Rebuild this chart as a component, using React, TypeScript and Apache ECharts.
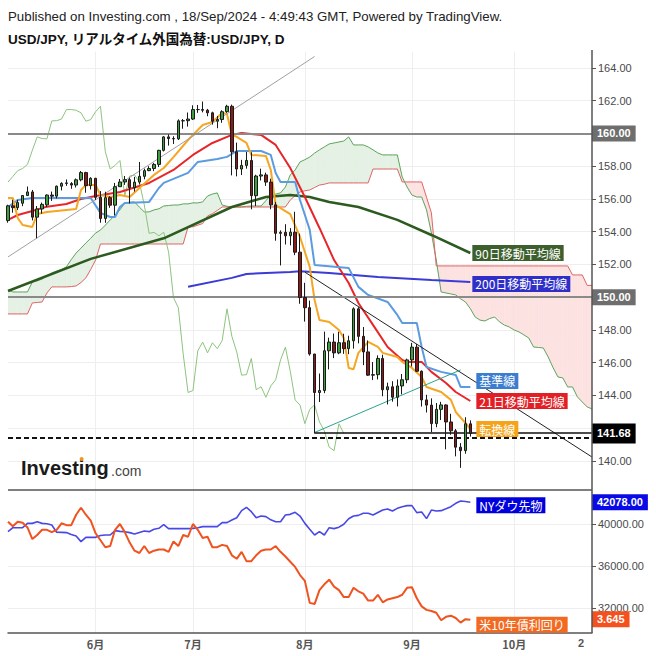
import React, { useEffect, useRef } from 'react';
import * as echarts from 'echarts';

// ---------- categories (weekday trading days shown on the chart) ----------
const START_DATE = '2024-05-08';
const CATEGORY_COUNT = 121; // 96 bars + 25 future slots for the cloud

function buildWeekdays(start: string, count: number): string[] {
  const out: string[] = [];
  const d = new Date(start + 'T00:00:00Z');
  while (out.length < count) {
    const wd = d.getUTCDay();
    if (wd !== 0 && wd !== 6) out.push(`${d.getUTCFullYear()}-${d.getUTCMonth() + 1}-${d.getUTCDate()}`);
    d.setUTCDate(d.getUTCDate() + 1);
  }
  return out;
}
const dates = buildWeekdays(START_DATE, CATEGORY_COUNT);
const monthOf = (s: string) => Number(s.split('-')[1]);
const monthStart = dates.map((s, i) => i > 0 && monthOf(s) !== monthOf(dates[i - 1]));

// ---------- USD/JPY daily OHLC ----------
const opens = [154.68,155.58,155.47,155.74,156.21,156.43,154.89,155.39,155.64,156.24,156.17,156.78,156.95,156.94,156.85,157.17,157.61,156.81,157.26,156.10,154.81,156.08,155.62,156.75,157.04,157.18,156.69,157.03,157.38,157.73,157.86,158.11,158.97,159.79,159.69,159.67,160.77,160.78,160.88,161.46,161.46,161.42,161.26,160.75,160.85,161.33,161.66,158.88,157.83,158.05,158.35,156.20,157.40,157.47,157.03,155.64,153.90,153.96,153.75,153.97,152.75,149.98,149.36,146.53,144.18,144.30,146.73,147.26,146.60,147.22,146.86,147.34,149.29,147.61,146.66,145.24,145.27,146.26,144.35,144.53,143.89,144.58,144.96,146.17,146.95,145.48,143.73,143.41,142.28,143.15,143.42,142.38,141.84,140.84,140.63,142.27];
const highs = [155.65,155.95,155.95,156.24,156.76,156.55,155.57,155.78,156.28,156.45,156.82,157.02,157.19,157.03,157.25,157.71,157.66,157.33,157.29,156.48,156.44,156.17,156.98,157.22,157.40,157.30,157.35,158.26,157.85,158.00,158.20,159.00,159.84,159.94,159.83,160.86,160.88,161.28,161.72,161.74,161.95,161.50,161.33,161.07,161.42,161.75,161.76,159.44,158.39,158.87,158.85,157.48,157.85,157.61,157.24,155.82,154.08,154.46,154.22,155.22,153.88,150.88,149.79,146.54,145.34,147.90,147.53,147.78,147.89,147.77,147.65,149.38,149.39,148.18,147.36,146.04,146.45,146.49,144.78,144.87,144.98,145.31,146.25,147.21,147.14,145.53,144.04,143.82,143.54,143.61,143.46,142.88,141.95,141.09,142.67,142.48];
const lows = [154.55,155.16,155.32,155.56,156.18,154.69,153.60,155.10,155.50,155.88,156.03,156.52,156.80,156.62,156.70,157.08,156.38,156.58,155.94,154.55,154.54,155.46,155.00,156.73,156.86,155.72,156.45,156.89,157.20,157.70,157.70,157.95,158.90,159.26,159.36,159.60,160.29,160.42,160.82,161.26,161.29,161.05,160.54,160.32,160.65,161.26,157.44,157.38,157.46,157.85,155.37,155.57,157.13,156.80,155.37,153.45,151.94,153.22,153.17,152.57,149.60,148.51,146.43,141.68,143.60,144.14,145.59,146.28,146.52,146.54,146.52,146.86,147.18,145.85,145.19,144.94,144.98,143.95,143.45,143.62,143.33,144.07,144.75,145.77,145.43,143.32,142.96,141.76,142.06,142.50,140.71,141.60,140.28,139.58,140.44,141.49];
const closes = [155.58,155.47,155.78,156.21,156.43,154.89,155.39,155.67,156.24,156.17,156.78,156.95,156.98,156.85,157.17,157.61,156.81,157.26,156.10,154.81,156.08,155.62,156.75,157.04,157.18,156.69,157.03,157.38,157.73,157.86,158.11,158.97,159.79,159.69,159.67,160.77,160.78,160.88,161.46,161.46,161.42,161.26,160.75,160.85,161.33,161.66,158.88,157.83,158.05,158.35,156.20,157.40,157.47,157.03,155.64,153.90,153.96,153.75,153.97,152.75,149.98,149.36,146.53,144.18,144.30,146.73,147.26,146.60,147.22,146.86,147.34,149.29,147.61,146.66,145.24,145.27,146.26,144.35,144.53,143.89,144.58,144.96,146.17,146.95,145.48,143.73,143.41,142.28,143.15,143.42,142.38,141.84,140.84,140.63,142.27,141.68];

// ---------- indicator lines: [barIndex, value] ----------
const tenkan = [[0,156.06],[1,156.06],[2,154.84],[3,154.41],[5,154.29],[6,155.08],[8,155.21],[14,155.39],[15,156.55],[16,156.85],[18,156.85],[19,156.24],[21,156.12],[23,156.24],[25,156.12],[27,156.67],[30,157.47],[32,157.89],[34,158.56],[37,159.60],[39,160.21],[40,160.52],[42,160.70],[44,161.25],[45,161.19],[46,159.91],[47,159.79],[49,159.42],[50,158.69],[53,158.63],[54,157.77],[55,155.63],[58,155.08],[60,153.68],[62,151.85],[63,149.83],[64,148.61],[66,148.49],[68,148.0],[69,147.51],[70,145.68],[71,145.6],[72,146.60],[74,147.27],[76,146.96],[77,146.60],[80,146.35],[81,146.05],[83,145.68],[85,145.13],[86,144.52],[89,144.21],[91,143.73],[92,142.99],[94,142.32],[95,141.95]];
const kijun = [[0,155.51],[2,155.94],[5,156.06],[17,156.06],[19,155.15],[21,154.90],[22,154.90],[23,155.51],[24,155.76],[29,155.82],[31,156.67],[32,156.98],[37,157.59],[39,158.26],[43,158.44],[45,158.57],[47,158.93],[52,158.93],[54,158.69],[55,157.59],[56,157.04],[59,157.04],[60,155.94],[62,154.11],[63,151.97],[70,151.79],[72,150.63],[74,150.14],[78,149.71],[80,148.92],[81,148.43],[84,148.43],[85,146.96],[86,145.74],[89,145.44],[92,145.25],[93,144.52],[95,144.52]];
const ma21 = [[0,154.72],[2,155.02],[5,155.27],[8,155.53],[12,155.69],[15,156.0],[18,156.18],[23,156.43],[29,156.98],[34,157.77],[38,158.69],[42,159.42],[46,159.91],[48,160.03],[50,159.97],[52,159.91],[55,159.30],[58,157.89],[61,156.12],[64,154.23],[67,152.27],[70,150.87],[72,149.65],[75,148.31],[78,146.96],[81,146.17],[82,146.05],[85,146.05],[87,145.44],[90,144.76],[92,144.21],[95,143.66]];
const ma90 = [[0,150.38],[17,152.34],[32,153.6],[46,155.51],[53,156.12],[58,156.24],[62,156.12],[66,155.82],[72,155.51],[80,154.72],[87,153.80],[95,152.70]];
const ma200 = [[37,150.64],[46,151.18],[49,151.42],[58,151.54],[60,151.58],[66,151.48],[76,151.24],[87,151.05],[95,150.93]];

// Ichimoku cloud (leading spans, one value per slot incl. 25 future slots)
const spanA = [150.44,150.32,150.32,150.32,150.32,150.93,151.0,151.11,151.3,151.48,
  151.6,151.7,151.85,152.3,152.7,153.0,153.31,153.6,153.92,154.1,
  154.4,154.72,155.0,155.33,155.76,155.8,155.82,155.5,155.21,155.21,
  155.33,155.4,155.57,155.6,155.63,155.63,155.7,155.7,155.76,155.76,
  155.82,156.18,156.3,156.37,155.63,155.55,155.51,155.51,155.51,155.55,
  155.57,155.57,155.57,155.9,156.24,156.3,156.37,156.73,157.47,157.77,
  158.26,158.4,158.56,158.8,159.0,159.18,159.36,159.42,159.48,159.54,
  159.79,159.3,159.3,159.3,159.18,159.0,158.81,158.69,158.69,158.69,
  158.69,157.34,156.73,156.24,156.12,156.12,155.33,153.92,152.27,150.32,
  150.26,150.2,150.14,149.9,149.71,149.3,148.79,148.6,148.55,148.7,
  148.79,148.49,148.3,148.18,148.0,147.88,147.7,147.51,146.96,146.93,
  146.9,146.35,145.7,145.13,145.07,144.52,144.52,143.91,143.6,143.3,
  143.18];
const spanB = [148.98,148.98,148.98,148.98,148.98,149.65,149.68,149.71,150.26,150.63,
  150.63,150.63,150.63,150.65,150.69,150.9,151.18,151.7,152.27,153.25,
  153.25,153.25,153.25,153.25,153.25,153.25,153.25,153.25,153.25,153.25,
  153.25,153.25,153.25,153.25,153.25,153.25,153.25,154.3,154.3,154.4,
  154.5,154.96,155.1,155.3,155.51,155.51,155.51,155.51,155.51,155.51,
  155.51,155.51,155.51,155.51,155.51,155.51,155.51,155.51,155.94,156.2,
  156.43,156.5,156.55,156.7,156.85,156.9,156.98,156.98,156.98,156.98,
  156.98,156.98,156.98,156.98,156.98,157.83,157.83,157.83,157.83,157.83,
  157.83,157.04,157.04,157.04,157.04,157.04,156.1,155.15,151.91,151.91,
  151.91,151.91,151.91,151.91,151.91,151.91,151.91,151.91,151.91,151.91,
  151.91,151.91,151.91,151.91,151.91,151.91,151.91,151.91,151.91,151.91,
  151.91,151.91,151.91,151.91,151.91,151.91,151.36,151.36,151.36,150.72,
  150.72];
const LAG = 26;

// Drawn trend lines
const grayTrend = [[0,152.46],[63,164.7]];
const blackTrend = [[61,151.53],[120,140.24]];
const tealTrend = [[63,141.74],[93,145.56]];
const supportLine = [[63,141.70],[120,141.70]];
const hLines = [160, 150];
const dashedLevel = 141.40;

// Lower panel
const dowFutures = [39270,39650,39650,39650,40060,40060,40220,40060,40020,39900,
  39210,39200,39180,39000,38860,38320,38730,38730,38730,38900,
  38950,38950,39370,39300,39270,39180,39050,39200,39340,39270,
  39500,39590,39940,39560,39560,39560,39560,39560,39580,39650,
  39750,39750,39750,39750,40130,40130,40380,40600,41270,41590,
  41170,40600,40760,40700,40400,40220,40220,40860,40920,41110,
  40760,40060,39500,38950,39270,38950,39650,39560,39700,39970,
  40500,40760,40820,41020,41020,40860,41100,41330,41430,41240,
  41490,41650,41750,41750,41080,41150,40510,41330,41240,41270,
  41450,41650,41970,42190,42150,42078];
const us10y = [4.49,4.45,4.49,4.48,4.44,4.34,4.375,4.42,4.42,4.40,
  4.42,4.476,4.46,4.46,4.55,4.61,4.55,4.50,4.39,4.33,
  4.27,4.28,4.42,4.47,4.40,4.31,4.24,4.22,4.28,4.22,
  4.24,4.25,4.25,4.23,4.32,4.28,4.375,4.36,4.47,4.42,
  4.35,4.36,4.27,4.27,4.29,4.28,4.20,4.17,4.23,4.15,
  4.15,4.20,4.24,4.25,4.25,4.28,4.23,4.19,4.145,4.10,
  4.03,3.98,3.79,3.78,3.90,3.95,3.99,3.93,3.90,3.84,
  3.84,3.92,3.89,3.87,3.81,3.81,3.86,3.795,3.82,3.83,
  3.84,3.86,3.92,3.925,3.83,3.76,3.73,3.72,3.705,3.64,
  3.67,3.68,3.66,3.62,3.65,3.645];

const TITLE_1 = 'Published on Investing.com , 18/Sep/2024 - 4:49:43 GMT, Powered by TradingView.';
const TITLE_2 = 'USD/JPY, リアルタイム外国為替:USD/JPY, D';

const NUM_FONT = "'Liberation Sans', Arial, sans-serif";
const JP_FONT = "'Noto Sans CJK JP', 'Liberation Sans', sans-serif";
const GRID_COLOR = '#eeeeee';

const tag = (text: string, bg: string, distance: number, dy: number) => ({
  show: true,
  formatter: text,
  color: '#fff',
  backgroundColor: bg,
  padding: [2, 3, 1, 3],
  fontSize: 12,
  lineHeight: 13,
  fontFamily: JP_FONT,
  distance,
  offset: [0, dy],
});

const boxLabel = (text: string, bg: string, pad: number[] = [3, 5, 2, 5]) => ({
  show: true,
  position: 'end',
  formatter: text,
  color: '#fff',
  backgroundColor: bg,
  fontWeight: 'bold',
  fontSize: 11,
  fontFamily: NUM_FONT,
  padding: pad,
  distance: 0,
});

const line = (name: string, data: any[], color: string, width: number, extra: any = {}) => ({
  type: 'line',
  name,
  data,
  xAxisIndex: 0,
  yAxisIndex: 0,
  symbol: 'none',
  showSymbol: false,
  silent: true,
  lineStyle: { color, width },
  z: 3,
  ...extra,
});

function buildOption(): any {
  const candles = opens.map((o, i) => [o, closes[i], lows[i], highs[i]]);
  const lagging = closes.slice(LAG).map((c, i) => [i, c]);
  const lastClose = closes[closes.length - 1];
  const lastDow = dowFutures[dowFutures.length - 1];
  const lastYield = us10y[us10y.length - 1];
  const GREEN_FILL = '#e4f1e4';
  const RED_FILL = '#fde2e2';

  return {
    animation: false,
    backgroundColor: '#ffffff',
    grid: [
      { left: 8, top: 51.6, width: 584, height: 442.1, outerBoundsMode: 'none' },
      { left: 8, top: 482, width: 584, height: 168, outerBoundsMode: 'none' },
      { left: 8, top: 490, width: 584, height: 143, outerBoundsMode: 'none' },
    ],
    xAxis: [
      {
        type: 'category', gridIndex: 0, data: dates, boundaryGap: false,
        axisLine: { show: false }, axisTick: { show: false }, axisLabel: { show: false },
        splitLine: { show: true, interval: (i: number) => monthStart[i], lineStyle: { color: GRID_COLOR, width: 1 } },
      },
      { type: 'category', gridIndex: 1, data: dates, boundaryGap: false, show: false },
      {
        type: 'category', gridIndex: 2, data: dates, boundaryGap: false,
        axisLine: { show: true, lineStyle: { color: '#555', width: 1.5 } },
        axisTick: { show: false },
        axisLabel: {
          show: true, interval: (i: number) => monthStart[i],
          formatter: (v: string) => `${monthOf(v)}月`,
          color: '#555', fontWeight: 'bold', fontSize: 11, fontFamily: JP_FONT, margin: 5,
        },
        splitLine: { show: true, interval: (i: number) => monthStart[i], lineStyle: { color: GRID_COLOR, width: 1 } },
      },
    ],
    yAxis: [
      {
        type: 'value', gridIndex: 0, position: 'right', min: 138, max: 165, interval: 2,
        axisLine: { show: false },
        axisTick: { show: true, length: 4, lineStyle: { color: '#555' } },
        axisLabel: {
          show: true, formatter: (v: number) => v.toFixed(2), showMinLabel: false, showMaxLabel: false,
          color: '#4a4a4a', fontSize: 11, fontFamily: NUM_FONT, margin: 6,
        },
        splitLine: { show: true, showMinLine: false, showMaxLine: false, lineStyle: { color: GRID_COLOR, width: 1 } },
      },
      {
        type: 'value', gridIndex: 1, position: 'right', min: 28000, max: 44000, interval: 4000,
        axisLine: { show: false },
        axisTick: { show: true, length: 4, lineStyle: { color: '#555' } },
        axisLabel: {
          show: true, formatter: (v: number) => v.toFixed(2), showMinLabel: false, showMaxLabel: false,
          color: '#4a4a4a', fontSize: 11, fontFamily: NUM_FONT, margin: 6,
        },
        splitLine: { show: true, showMinLine: false, showMaxLine: false, lineStyle: { color: GRID_COLOR, width: 1 } },
      },
      { type: 'value', gridIndex: 1, position: 'left', min: 3.384, max: 4.832, show: false, splitLine: { show: false } },
      { type: 'value', gridIndex: 2, show: false, min: 0, max: 1, splitLine: { show: false } },
    ],
    series: [
      {
        type: 'custom',
        name: 'cloud',
        xAxisIndex: 0,
        yAxisIndex: 0,
        z: 1,
        silent: true,
        clip: true,
        data: spanA.map((a, i) => [i, a, spanB[i]]),
        encode: { x: 0, y: [1, 2] },
        renderItem: (params: any, api: any) => {
          const i = params.dataIndex;
          if (i >= spanA.length - 1) return null;
          const a0 = api.coord([i, spanA[i]]);
          const a1 = api.coord([i + 1, spanA[i + 1]]);
          const b0 = api.coord([i, spanB[i]]);
          const b1 = api.coord([i + 1, spanB[i + 1]]);
          const d0 = spanA[i] - spanB[i];
          const d1 = spanA[i + 1] - spanB[i + 1];
          const fillOf = (d: number) => (d >= 0 ? GREEN_FILL : RED_FILL);
          if (d0 * d1 >= 0) {
            const f = fillOf(d0 + d1);
            return { type: 'polygon', shape: { points: [a0, a1, b1, b0] }, style: { fill: f, stroke: f, lineWidth: 0.6 } };
          }
          const t = d0 / (d0 - d1);
          const c = [a0[0] + (a1[0] - a0[0]) * t, a0[1] + (a1[1] - a0[1]) * t];
          return {
            type: 'group',
            children: [
              { type: 'polygon', shape: { points: [a0, c, b0] }, style: { fill: fillOf(d0), stroke: fillOf(d0), lineWidth: 0.6 } },
              { type: 'polygon', shape: { points: [c, a1, b1] }, style: { fill: fillOf(d1), stroke: fillOf(d1), lineWidth: 0.6 } },
            ],
          };
        },
      },
      line('先行スパン1', spanA.map((v, i) => [i, v]), '#5ea55e', 1),
      line('先行スパン2', spanB.map((v, i) => [i, v]), '#e06666', 1),
      line('遅行スパン', lagging, '#8cc47e', 1),
      line('90日移動平均線', ma90, '#2c5a1f', 2.5, { endLabel: tag('90日移動平均線', '#3d5f2d', 2, 0) }),
      line('200日移動平均線', ma200, '#3b3bd6', 2, { endLabel: tag('200日移動平均線', '#2f2fc8', 2, 2) }),
      line('21日移動平均線', ma21, '#e8262a', 2, { endLabel: tag('21日移動平均線', '#e31f26', 6, 0) }),
      line('基準線', kijun, '#5b9be0', 2, { endLabel: tag('基準線', '#3d7dd0', 6, -6) }),
      line('転換線', tenkan, '#f5a623', 2, { endLabel: tag('転換線', '#f5a31a', 6, 0) }),
      line('上昇トレンド', grayTrend, '#a0a0a0', 1),
      line('下降トレンド', blackTrend, '#222', 1),
      line('支持トレンド', tealTrend, '#2aa58e', 1),
      line('サポート', supportLine, '#111', 1.5),
      {
        type: 'candlestick',
        name: 'USD/JPY',
        xAxisIndex: 0,
        yAxisIndex: 0,
        data: candles,
        barWidth: 3,
        z: 5,
        silent: true,
        itemStyle: {
          color: '#3f9f3f',
          color0: '#8a1b1b',
          borderColor: '#1a1a1a',
          borderColor0: '#1a1a1a',
          borderWidth: 1,
        },
        markLine: {
          silent: true,
          symbol: ['none', 'none'],
          animation: false,
          data: [
            ...hLines.map((v) => ({ yAxis: v, lineStyle: { color: '#8a8a8a', width: 2, type: 'solid' }, label: boxLabel(v.toFixed(2), '#6e6e6e') })),
            { yAxis: dashedLevel, lineStyle: { color: '#111', width: 2, type: [5, 3] }, label: { show: false } },
            { yAxis: lastClose, lineStyle: { color: 'transparent', width: 0 }, label: boxLabel(lastClose.toFixed(2), '#000', [5, 5, 4, 5]) },
          ],
        },
      },
      {
        type: 'line',
        name: 'NYダウ先物',
        xAxisIndex: 1,
        yAxisIndex: 1,
        data: dowFutures,
        symbol: 'none',
        showSymbol: false,
        silent: true,
        lineStyle: { color: '#4848e6', width: 1.6 },
        endLabel: tag('NYダウ先物', '#0000dd', 6, 3),
        markLine: {
          silent: true, symbol: ['none', 'none'], animation: false,
          data: [{ yAxis: lastDow, lineStyle: { color: 'transparent', width: 0 }, label: boxLabel(lastDow.toFixed(2), '#0a0ae6') }],
        },
      },
      {
        type: 'line',
        name: '米10年債利回り',
        xAxisIndex: 1,
        yAxisIndex: 2,
        data: us10y,
        symbol: 'none',
        showSymbol: false,
        silent: true,
        lineStyle: { color: '#ef5320', width: 2 },
        endLabel: tag('米10年債利回り', '#f26a22', 6, 5),
        markLine: {
          silent: true, symbol: ['none', 'none'], animation: false,
          data: [{ yAxis: lastYield, lineStyle: { color: 'transparent', width: 0 }, label: boxLabel(lastYield.toFixed(3), '#f4511e') }],
        },
      },
    ],
    graphic: [
      { type: 'text', x: 8, y: 16, silent: true, style: { text: TITLE_1, fontSize: 13.3, fontFamily: NUM_FONT, fill: '#222', align: 'left', verticalAlign: 'middle' } },
      { type: 'text', x: 8, y: 39, silent: true, style: { text: TITLE_2, fontSize: 13.5, fontWeight: 'bold', fontFamily: "'Liberation Sans', 'Noto Sans CJK JP', sans-serif", fill: '#111', align: 'left', verticalAlign: 'middle' } },
      { type: 'line', z: 100, silent: true, shape: { x1: 8, y1: 490, x2: 592, y2: 490 }, style: { stroke: '#555', lineWidth: 1.5 } },
      { type: 'line', z: 100, silent: true, shape: { x1: 592, y1: 50, x2: 592, y2: 633 }, style: { stroke: '#555', lineWidth: 1.5 } },
      { type: 'text', x: 21, y: 468, z: 100, silent: true, style: { text: 'Investing', fontSize: 20, fontWeight: 'bold', fontFamily: NUM_FONT, fill: '#1a1a1a', align: 'left', verticalAlign: 'middle' } },
      { type: 'circle', z: 101, silent: true, shape: { cx: 81.6, cy: 459, r: 2 }, style: { fill: '#f7941d' } },
      { type: 'text', x: 111, y: 471, z: 100, silent: true, style: { text: '.com', fontSize: 14, fontFamily: NUM_FONT, fill: '#444', align: 'left', verticalAlign: 'middle' } },
      { type: 'text', x: 578, y: 643, z: 100, silent: true, style: { text: '2', fontSize: 11, fontWeight: 'bold', fontFamily: NUM_FONT, fill: '#555', align: 'left', verticalAlign: 'middle' } },
    ],
  };
}

export default function App() {
  const ref = useRef<HTMLDivElement>(null);
  useEffect(() => {
    if (!ref.current) return;
    const chart = echarts.init(ref.current, undefined, { renderer: 'svg' });
    chart.setOption(buildOption());
    return () => chart.dispose();
  }, []);
  return (
    <div
      ref={ref}
      style={{ position: 'fixed', left: 0, top: 0, width: 656, height: 656, background: '#fff' }}
    />
  );
}
